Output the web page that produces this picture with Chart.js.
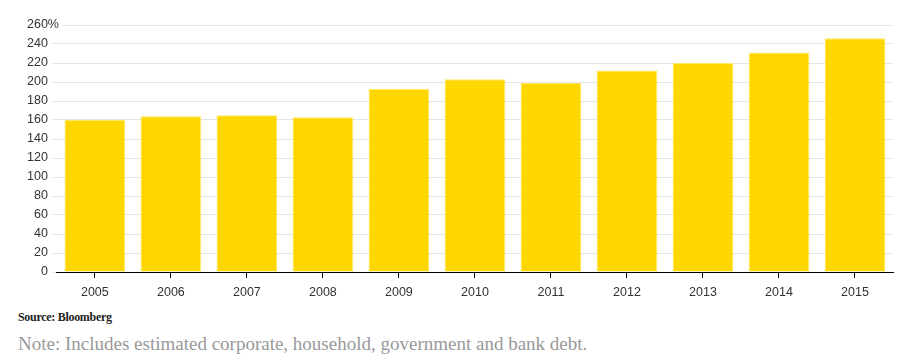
<!DOCTYPE html>
<html>
<head>
<meta charset="utf-8">
<script src="https://cdn.jsdelivr.net/npm/chart.js@4"></script>
<style>
  body { margin: 0; background: #fff; width: 900px; height: 362px; overflow: hidden; }
  #wrap { position: relative; width: 900px; height: 307px; }
  .source { position: absolute; left: 18px; top: 310px; font: bold 12px "Liberation Serif", serif; color: #222; letter-spacing: -0.3px; }
  .note { position: absolute; left: 18px; top: 333px; font: 19px "Liberation Serif", serif; color: #999; }
</style>
</head>
<body>
<div id="wrap"><canvas id="myChart"></canvas></div>
<div class="source">Source: Bloomberg</div>
<div class="note">Note: Includes estimated corporate, household, government and bank debt.</div>
<script>
// debt as % of GDP
var years = ['2005', '2006', '2007', '2008', '2009', '2010', '2011', '2012', '2013', '2014', '2015'];
var debt = [160, 164, 165, 163, 193, 203, 199, 212, 220, 231, 246];
var yTicks = [0, 20, 40, 60, 80, 100, 120, 140, 160, 180, 200, 220, 240, 260];

// put the % sign after the top tick label
var percentSign = {
    id: 'percentSign',
    afterDraw: function (chart) {
        var y = chart.scales.y;
        var ctx = chart.ctx;
        var top = yTicks[yTicks.length - 1];
        var py = y.getPixelForValue(top);
        var px = y.right - 5 - 4;
        ctx.save();
        ctx.font = '12.5px "Liberation Sans", sans-serif';
        ctx.textAlign = 'left';
        ctx.textBaseline = 'middle';
        ctx.fillStyle = '#fff';
        ctx.fillRect(px, py - 1, 14, 2);
        ctx.fillStyle = '#333';
        ctx.fillText('%', px, py);
        ctx.restore();
    }
};

new Chart(document.getElementById('myChart'), {
    type: 'bar',
    data: {
        labels: years,
        datasets: [{
            data: debt,
            backgroundColor: '#FFD700',
            borderColor: '#FFE866',
            borderWidth: 1,
            barPercentage: 0.8,
            categoryPercentage: 1
        }]
    },
    options: {
        responsive: true,
        maintainAspectRatio: false,
        animation: false,
        layout: { padding: { left: 23, right: 7, top: 25, bottom: 0 } },
        plugins: { legend: { display: false }, tooltip: { enabled: false } },
        scales: {
            x: {
                offset: true,
                grid: { offset: false, drawOnChartArea: false, color: '#000', tickLength: 6 },
                border: { color: '#000', width: 1 },
                ticks: { color: '#333', font: { size: 12.5, family: '"Liberation Sans", sans-serif' }, padding: 7 }
            },
            y: {
                min: 0,
                max: 260,
                afterBuildTicks: function (axis) {
                    axis.ticks = yTicks.map(function (v) { return { value: v }; });
                },
                grid: { color: '#e3e3ea', tickLength: 5 },
                border: { display: false },
                ticks: { color: '#333', font: { size: 12.5, family: '"Liberation Sans", sans-serif' }, padding: 4 }
            }
        }
    },
    plugins: [percentSign]
});
</script>
</body>
</html>
